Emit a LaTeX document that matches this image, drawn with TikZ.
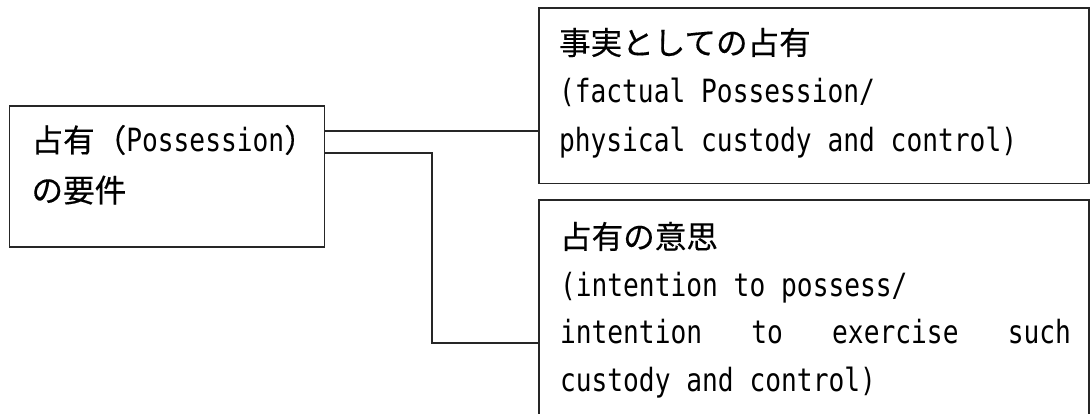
\documentclass[tikz,border=0pt]{standalone}
\usepackage{fontspec}
\setmainfont{DejaVu Sans Mono}[FakeStretch=0.82]
\newfontfamily\jp{Noto Sans CJK JP}[Scale=0.9875,FakeBold=0.4]
\begin{document}
\begin{tikzpicture}[x=1pt,y=-1pt,
  boxe/.style={draw=black!85, line width=1.3pt, inner sep=0pt, outer sep=0pt, anchor=north west},
  ln/.style={anchor=base west, inner sep=0pt, outer sep=0pt, font=\fontsize{32}{48}\selectfont},
  conn/.style={draw=black!85, line width=1.3pt}]
\useasboundingbox (0,0) rectangle (1090,414);
\clip (0,0) rectangle (1090,414);
% boxes
\node[boxe, minimum width=315pt, minimum height=141pt] (L) at (9.5,106) {};
\node[boxe, minimum width=550pt, minimum height=175.5pt] (T) at (539,8) {};
\node[boxe, minimum width=550pt, minimum height=240pt] (B) at (539,200) {};
% left box text
\node[ln] (l1) at ([xshift=22pt,yshift=-46pt]L.north west) {{\jp 占有（}Possession{\jp ）}};
\node[ln] (l2) at ([yshift=-50pt]l1.base west) {{\jp の要件}};
% top box text
\node[ln] (t1) at ([xshift=20pt,yshift=-46.5pt]T.north west) {{\jp 事実としての占有}};
\node[ln] (t2) at ([yshift=-48.5pt]t1.base west) {(factual Possession/};
\node[ln] (t3) at ([yshift=-48.5pt]t2.base west) {physical custody and control)};
% bottom box text
\node[ln] (b1) at ([xshift=21pt,yshift=-48.5pt]B.north west) {{\jp 占有の意思}};
\node[ln] (b2) at ([yshift=-47.5pt]b1.base west) {(intention to possess/};
\node[ln] (b3) at ([yshift=-47.5pt]b2.base west) {\hbox to 511pt{intention\hfil{} to\hfil{} exercise\hfil{} such}};
\node[ln] (b4) at ([yshift=-47.5pt]b3.base west) {custody and control)};
% connectors
\draw[conn] ([yshift=-25pt]L.north east) -- ([yshift=-25pt]L.north east -| T.west);
\coordinate (k) at (432,343);
\draw[conn] ([yshift=-47pt]L.north east) -| (k) -- (k -| B.west);
\end{tikzpicture}
\end{document}
